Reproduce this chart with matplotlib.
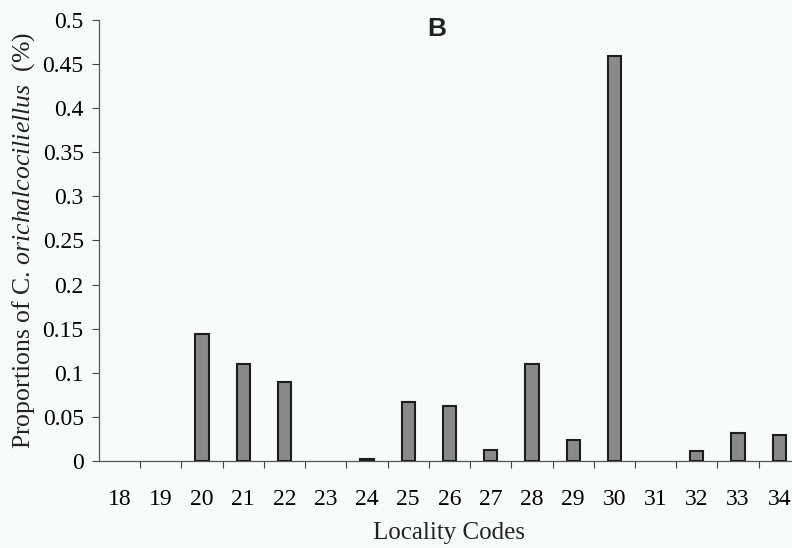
import numpy as np
import matplotlib
matplotlib.use('Agg')
import matplotlib.pyplot as plt
from matplotlib.ticker import FixedLocator


codes = ['18', '19', '20', '21', '22', '23', '24', '25', '26',
         '27', '28', '29', '30', '31', '32', '33', '34']
proportions = [0, 0, 0.144, 0.110, 0.090, 0, 0.002, 0.067, 0.062,
               0.012, 0.110, 0.024, 0.459, 0, 0.011, 0.032, 0.030]
yticks = [0, 0.05, 0.1, 0.15, 0.2, 0.25, 0.3, 0.35, 0.4, 0.45, 0.5]
ytick_labels = ['0', '0.05', '0.1', '0.15', '0.2', '0.25', '0.3',
                '0.35', '0.4', '0.45', '0.5']


def main():
    plt.rcParams['font.family'] = 'Liberation Serif'
    plt.rcParams['mathtext.fontset'] = 'custom'
    plt.rcParams['mathtext.it'] = 'Liberation Serif:italic'
    plt.rcParams['mathtext.rm'] = 'Liberation Serif'

    fig = plt.figure(figsize=(7.92, 5.48), dpi=100)
    fig.patch.set_facecolor('#f8fbfc')
    ax = fig.add_axes([0.125, 0.1588, 0.885, 0.8047])
    ax.set_facecolor('none')

    pos = np.arange(len(codes))
    edges = ['#1e1e1e' if v > 0 else 'none' for v in proportions]
    ax.bar(pos, proportions, width=0.32, color='#8a8a8a',
           edgecolor=edges, linewidth=1.5, zorder=3)

    ax.set_xlim(-0.5, len(codes) - 0.5)
    ax.set_ylim(0, 0.5)
    ax.set_xticks(pos)
    ax.set_xticklabels(codes)
    ax.xaxis.set_minor_locator(FixedLocator(pos[:-1] + 0.5))
    ax.tick_params(axis='x', which='major', length=0, pad=20, labelsize=17)
    ax.tick_params(axis='x', which='minor', length=5, width=0.8,
                   direction='out', color='#444444')
    ax.set_yticks(yticks)
    ax.set_yticklabels(ytick_labels)
    ax.tick_params(axis='y', length=5, width=0.8, direction='out',
                   color='#444444', labelsize=17, pad=6)

    for s in ['top', 'right']:
        ax.spines[s].set_visible(False)
    for s in ['left', 'bottom']:
        ax.spines[s].set_linewidth(0.9)
        ax.spines[s].set_color('#555555')

    ax.set_xlabel('Locality Codes', fontsize=18, labelpad=9, color='#222222')
    ax.set_ylabel(r'Proportions of C. $\mathit{orichalcociliellus}$  (%)',
                  fontsize=18.5, labelpad=4, color='#222222')

    fig.text(0.552, 0.947, 'B', fontsize=19, family='Liberation Sans',
             weight='bold', ha='center', va='center', color='#222222')

    fig.savefig('out.png', dpi=100, facecolor=fig.get_facecolor())


if __name__ == '__main__':
    main()
